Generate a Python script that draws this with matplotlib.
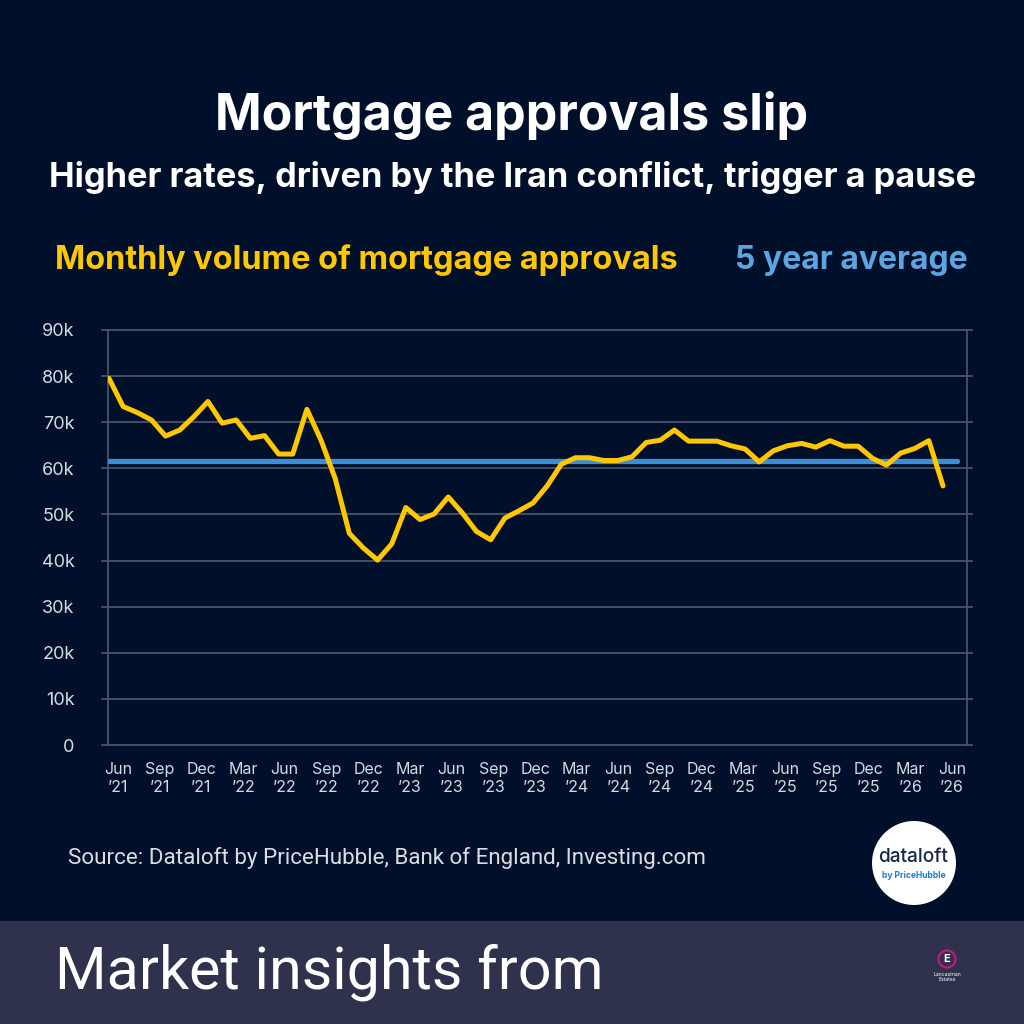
import matplotlib
matplotlib.use("Agg")
import matplotlib.pyplot as plt
import numpy as np
from matplotlib.patches import Circle, Rectangle

# ---------------- data ----------------
approvals = [79.5, 73.4, 72.1, 70.5, 67.0, 68.3, 71.2,               # Jun-Dec 2021
             74.5, 69.8, 70.5, 66.5, 67.1, 63.1, 63.1, 72.8, 66.1, 57.8, 45.9, 42.7,   # 2022
             40.1, 43.6, 51.5, 48.9, 50.1, 53.8, 50.3, 46.3, 44.5, 49.2, 50.8, 52.5,   # 2023
             56.2, 60.9, 62.3, 62.3, 61.7, 61.7, 62.5, 65.6, 66.1, 68.3, 65.9, 65.9,   # 2024
             65.9, 64.9, 64.2, 61.4, 63.8, 64.9, 65.4, 64.6, 66.0, 64.8, 64.8, 62.2,   # 2025
             60.7, 63.3, 64.3, 66.0, 56.2]                                            # Jan-May 2026
five_year_avg = 61.5
x_labels = ["Jun\n\u201921", "Sep\n\u201921", "Dec\n\u201921", "Mar\n\u201922", "Jun\n\u201922",
            "Sep\n\u201922", "Dec\n\u201922", "Mar\n\u201923", "Jun\n\u201923", "Sep\n\u201923",
            "Dec\n\u201923", "Mar\n\u201924", "Jun\n\u201924", "Sep\n\u201924", "Dec\n\u201924",
            "Mar\n\u201925", "Jun\n\u201925", "Sep\n\u201925", "Dec\n\u201925", "Mar\n\u201926",
            "Jun\n\u201926"]
y_ticks = [0, 10, 20, 30, 40, 50, 60, 70, 80, 90]
y_labels = ["0", "10k", "20k", "30k", "40k", "50k", "60k", "70k", "80k", "90k"]

# ---------------- style ----------------
BG = "#00102A"
BANNER = "#2F324D"
YELLOW = "#FFC700"
BLUE = "#3A8DD6"
BLUE_TXT = "#5CA4E2"
GRID = "#50576A"
TICK_TXT = "#D5D9E0"
FONT = ["Inter", "DejaVu Sans"]
FONT2 = ["Roboto", "DejaVu Sans"]

W = 1024.0
fig = plt.figure(figsize=(10.24, 10.24), dpi=100, facecolor=BG)
renderer = fig.canvas.get_renderer()


def fx(px):
    return px / W


def fy(py):
    return 1 - py / W


def fit_text(s, target_w, x, y, ha="center", family=FONT, weight="bold", color="white", base=20):
    t = fig.text(fx(x), fy(y), s, fontsize=base, ha=ha, va="center",
                 family=family, fontweight=weight, color=color)
    w = t.get_window_extent(renderer).width
    t.set_fontsize(base * target_w / w)
    return t


# axes
ax = fig.add_axes([fx(108), fy(745), fx(967 - 108), (745 - 330) / W])
ax.set_facecolor(BG)

n = len(approvals)
xs = np.arange(n)
px_per_idx = (943 - 109) / (n - 1)
ax.set_xlim(-1 / px_per_idx, (967 - 109) / px_per_idx)
ax.set_ylim(0, 90)

# gridlines (extend slightly beyond the axes)
for v in y_ticks:
    ax.plot([-6 / 859, 1 + 5 / 859], [v, v], transform=ax.get_yaxis_transform(),
            color=GRID, lw=1.2, clip_on=False, zorder=1)

# average line and series
ax.plot([0, n], [five_year_avg, five_year_avg], color=BLUE, lw=3.8,
        solid_capstyle="round", zorder=3)
ax.plot(xs, approvals, color=YELLOW, lw=3.6, solid_joinstyle="round",
        solid_capstyle="round", zorder=4)

for side in ["top", "bottom"]:
    ax.spines[side].set_visible(False)
for side in ["left", "right"]:
    ax.spines[side].set_color(GRID)
    ax.spines[side].set_linewidth(1.2)

ax.set_yticks(y_ticks)
ax.set_yticklabels(y_labels, fontsize=13, color=TICK_TXT, family=FONT)
label_pos = np.linspace(0, n - 1, len(x_labels)) + 9 / px_per_idx
ax.set_xticks(label_pos)
ax.set_xticklabels(x_labels, fontsize=11.5, color=TICK_TXT, family=FONT, linespacing=1.25)
ax.tick_params(axis="both", length=0)
ax.tick_params(axis="x", pad=12)
ax.tick_params(axis="y", pad=24)

# titles
fit_text("Mortgage approvals slip", 595, 512, 115)
fit_text("Higher rates, driven by the Iran conflict, trigger a pause", 930, 513, 178)
fit_text("Monthly volume of mortgage approvals", 625, 55, 260, ha="left", color=YELLOW)
fit_text("5 year average", 233, 735, 260, ha="left", color=BLUE_TXT)

# source
fit_text("Source: Dataloft by PriceHubble, Bank of England, Investing.com", 636, 68, 858,
         ha="left", family=FONT2, weight="normal", color="#DADDE3")

# dataloft logo
fig.add_artist(Circle((fx(914), fy(863)), 42 / W, transform=fig.transFigure,
                      facecolor="white", edgecolor="none"))
fit_text("dataloft", 70, 913, 857, family=FONT, weight="medium", color="#17284A")
fit_text("by PriceHubble", 64, 914, 875, family=FONT, weight="bold", color="#1C7FD6")

# bottom banner
fig.add_artist(Rectangle((0, 0), 1, fy(921), transform=fig.transFigure,
                         facecolor=BANNER, edgecolor="none"))
fit_text("Market insights from", 547, 55, 972, ha="left", family=FONT2, weight="normal",
         color="white")

# Lancastrian Estates logo
fig.add_artist(Circle((fx(947), fy(959)), 8.5 / W, transform=fig.transFigure,
                      facecolor="none", edgecolor="#C4177F", lw=1.6))
fig.text(fx(947), fy(959), "E", fontsize=8, color="white", ha="center", va="center",
         family=FONT, fontweight="bold")
fig.text(fx(947), fy(977), "Lancastrian\nEstates", fontsize=3.6, color="white",
         ha="center", va="center", family=FONT, linespacing=1.1)

fig.savefig("out.png", dpi=100, facecolor=BG)
